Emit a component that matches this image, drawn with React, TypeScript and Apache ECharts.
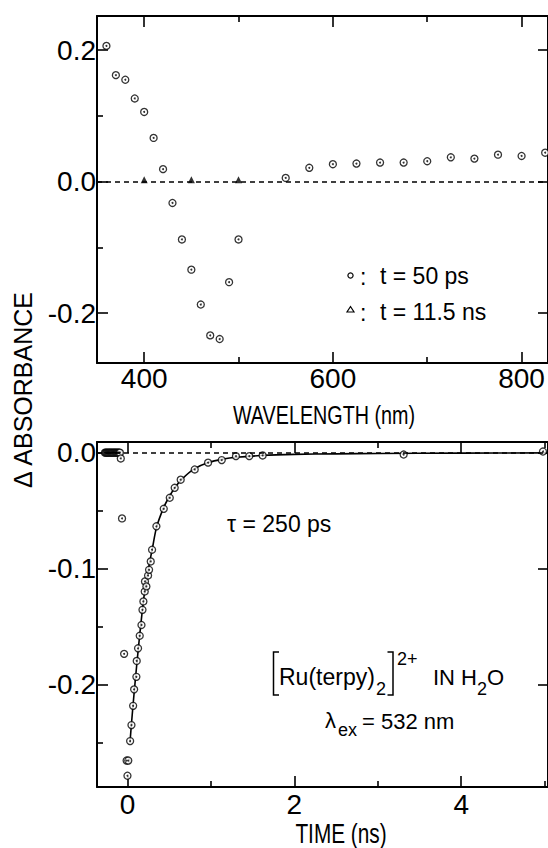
import React, { useEffect, useRef } from 'react';
import * as echarts from 'echarts';

// ---------- data: top panel (transient spectra) ----------
const wavelength50 = [360, 370, 380, 390, 400, 410, 420, 430, 440, 450, 460, 470, 480, 490, 500, 550, 575, 600, 625, 650, 675, 700, 725, 750, 775, 800, 825];
const dA50 = [0.2065, 0.162, 0.155, 0.1265, 0.106, 0.0665, 0.019, -0.0325, -0.088, -0.134, -0.187, -0.234, -0.2395, -0.153, -0.088, 0.0056, 0.021, 0.0265, 0.0275, 0.029, 0.029, 0.031, 0.037, 0.035, 0.041, 0.039, 0.044];
const wavelength11 = [400, 450, 500];
const dA11 = [0.003, 0.003, 0.003];

// ---------- data: bottom panel (kinetics) ----------
const timeObs = [-0.27, -0.26, -0.25, -0.24, -0.23, -0.22, -0.21, -0.2, -0.19, -0.18, -0.17, -0.16, -0.15, -0.14, -0.13, -0.12, -0.11, -0.1, -0.09, -0.08, -0.065, -0.04, -0.01, 0.0, 0.01, 0.032, 0.048, 0.068, 0.08, 0.107, 0.111, 0.127, 0.147, 0.168, 0.18, 0.191, 0.207, 0.21, 0.227, 0.247, 0.259, 0.279, 0.295, 0.347, 0.435, 0.507, 0.566, 0.638, 0.806, 0.966, 1.13, 1.3, 1.46, 1.62, 3.31, 4.98];
const dAObs = [0.0, 0.0, 0.0, 0.0, 0.0, 0.0, 0.0, 0.0, 0.0, 0.0, 0.0, 0.0, 0.0, 0.0, 0.0, 0.0, 0.0, 0.0, 0.0, -0.005, -0.0567, -0.1735, -0.2655, -0.2786, -0.2655, -0.2487, -0.2349, -0.2183, -0.2041, -0.1933, -0.1796, -0.1687, -0.1579, -0.1486, -0.1355, -0.1283, -0.1197, -0.111, -0.1153, -0.1059, -0.101, -0.0938, -0.0837, -0.0635, -0.0484, -0.0389, -0.0303, -0.0233, -0.0145, -0.0086, -0.0064, -0.003, -0.003, -0.0024, -0.0016, 0.001];
const timeFit = [0.03, 0.05, 0.08, 0.11, 0.15, 0.2, 0.25, 0.3, 0.35, 0.43, 0.5, 0.57, 0.65, 0.8, 0.97, 1.15, 1.3, 1.6, 2.0, 2.5, 3.0, 4.0, 5.04];
const dAFit = [-0.25, -0.232, -0.207, -0.184, -0.155, -0.123, -0.101, -0.082, -0.064, -0.048, -0.038, -0.03, -0.023, -0.014, -0.0085, -0.0055, -0.004, -0.0025, -0.0015, -0.001, -0.0007, -0.0004, -0.0002];

// ---------- ticks ----------
const wlMajor = [400, 600, 800];
const wlMinor = [500, 700];
const absTopMajor = [-0.2, 0, 0.2];
const absTopMinor = [-0.1, 0.1];
const timeMajor = [0, 2, 4];
const timeMinor = [1, 3, 5];
const absBotMajor = [-0.2, -0.1, 0];
const absBotMinor = [-0.25, -0.15, -0.05];

const REG = "'Liberation Sans', Arial, sans-serif";

const zip = (a: number[], b: number[]) => a.map((v, i) => [v, b[i]]);

function axis(opts: {
  grid: number; min: number; max: number; position: string; ticks: number[]; len: number;
  labels?: number[]; line?: boolean; fmt?: (v: number) => string; margin?: number;
}) {
  return {
    type: 'value',
    gridIndex: opts.grid,
    min: opts.min,
    max: opts.max,
    position: opts.position,
    splitLine: { show: false },
    axisLine: { show: !!opts.line, onZero: false, lineStyle: { color: '#000', width: 2 } },
    axisTick: {
      show: true, inside: true, length: opts.len, customValues: opts.ticks,
      lineStyle: { color: '#000', width: 1.6 },
    },
    axisLabel: opts.labels
      ? {
          show: true, customValues: opts.labels, margin: opts.margin ?? 2, color: '#000',
          fontSize: 28, fontFamily: REG, formatter: opts.fmt,
        }
      : { show: false },
  };
}

const fmtAbs = (v: number) => (Math.abs(v) < 1e-9 ? '0.0' : v.toFixed(1));
const fmtInt = (v: number) => String(Math.round(v));

export default function App() {
  const ref = useRef<HTMLDivElement>(null);
  useEffect(() => {
    if (!ref.current) return;
    const chart = echarts.init(ref.current, undefined, { renderer: 'svg' });
    const WL = { min: 350, max: 828 };
    const AT = { min: -0.276, max: 0.252 };
    const TM = { min: -0.365, max: 5.04 };
    const AB = { min: -0.2883, max: 0.0092 };
    const txt = (text: string, x: number, y: number, size: number, align = 'left', extra: any = {}) => ({
      type: 'text', x, y, silent: true, ...extra,
      style: { text, fill: '#000', fontSize: size, fontFamily: REG, align, verticalAlign: 'middle' },
    });
    const ringStyle = { color: '#fff', borderColor: '#000', borderWidth: 1.3 };
    const dashed = {
      silent: true, symbol: ['none', 'none'], label: { show: false },
      lineStyle: { color: '#000', type: [5, 4], width: 1.5 },
      data: [{ yAxis: 0 }],
    };
    chart.setOption({
      animation: false,
      backgroundColor: '#fff',
      grid: [
        { left: 97, top: 16, width: 452, height: 347 },
        { left: 97, top: 442, width: 452, height: 345 },
      ],
      xAxis: [
        axis({ grid: 0, ...WL, position: 'bottom', ticks: wlMajor, len: 11, labels: wlMajor, line: true, fmt: fmtInt, margin: 1 }),
        axis({ grid: 0, ...WL, position: 'bottom', ticks: wlMinor, len: 6 }),
        axis({ grid: 0, ...WL, position: 'top', ticks: wlMajor, len: 11, line: true }),
        axis({ grid: 0, ...WL, position: 'top', ticks: wlMinor, len: 6 }),
        axis({ grid: 1, ...TM, position: 'bottom', ticks: timeMajor, len: 11, labels: timeMajor, line: true, fmt: fmtInt, margin: 3 }),
        axis({ grid: 1, ...TM, position: 'bottom', ticks: timeMinor, len: 6 }),
        axis({ grid: 1, ...TM, position: 'top', ticks: timeMajor, len: 11, line: true }),
        axis({ grid: 1, ...TM, position: 'top', ticks: timeMinor, len: 6 }),
      ],
      yAxis: [
        axis({ grid: 0, ...AT, position: 'left', ticks: absTopMajor, len: 11, labels: absTopMajor, line: true, fmt: fmtAbs, margin: 1 }),
        axis({ grid: 0, ...AT, position: 'left', ticks: absTopMinor, len: 6 }),
        axis({ grid: 0, ...AT, position: 'right', ticks: absTopMajor, len: 10, line: true }),
        axis({ grid: 1, ...AB, position: 'left', ticks: absBotMajor, len: 11, labels: absBotMajor, line: true, fmt: fmtAbs, margin: 1 }),
        axis({ grid: 1, ...AB, position: 'left', ticks: absBotMinor, len: 6 }),
        axis({ grid: 1, ...AB, position: 'right', ticks: absBotMajor, len: 10, line: true }),
      ],
      series: [
        {
          type: 'scatter', xAxisIndex: 0, yAxisIndex: 0, data: zip(wavelength50, dA50),
          symbol: 'circle', symbolSize: 7, itemStyle: ringStyle, markLine: dashed, z: 3,
        },
        {
          type: 'scatter', xAxisIndex: 0, yAxisIndex: 0, data: zip(wavelength50, dA50),
          symbol: 'circle', symbolSize: 2, itemStyle: { color: '#000' }, silent: true, z: 4,
        },
        {
          type: 'scatter', xAxisIndex: 0, yAxisIndex: 0, data: zip(wavelength11, dA11),
          symbol: 'triangle', symbolSize: 7, itemStyle: { color: '#000' }, z: 4,
        },
        {
          type: 'line', xAxisIndex: 4, yAxisIndex: 3, data: zip(timeFit, dAFit),
          showSymbol: false, smooth: 0.3, lineStyle: { color: '#000', width: 1.6 }, z: 2,
          markLine: dashed,
        },
        {
          type: 'scatter', xAxisIndex: 4, yAxisIndex: 3, data: zip(timeObs, dAObs),
          symbol: 'circle', symbolSize: 7, itemStyle: ringStyle, z: 3,
        },
        {
          type: 'scatter', xAxisIndex: 4, yAxisIndex: 3, data: zip(timeObs, dAObs),
          symbol: 'circle', symbolSize: 2, itemStyle: { color: '#000' }, silent: true, z: 4,
        },
      ],
      graphic: [
        // axis titles
        txt('WAVELENGTH (nm)', 324, 416, 25, 'center', { scaleX: 0.79 }),
        txt('TIME (ns)', 341, 833, 27, 'center', { scaleX: 0.77 }),
        txt('Δ ABSORBANCE', 23, 390, 25, 'center', { rotation: Math.PI / 2 }),
        // legend
        { type: 'circle', silent: true, shape: { cx: 350.5, cy: 275.5, r: 2.6 }, style: { fill: 'none', stroke: '#000', lineWidth: 1.2 } },
        txt(':', 360, 277, 23),
        txt('t = 50 ps', 380, 275.5, 23),
        { type: 'polygon', silent: true, shape: { points: [[347, 312], [354, 312], [350.5, 306.5]] }, style: { fill: 'none', stroke: '#000', lineWidth: 1.2 } },
        txt(':', 360, 313, 23),
        txt('t = 11.5 ns', 380, 312, 23),
        // bottom annotations
        txt('τ = 250 ps', 227, 523.5, 23),
        { type: 'polyline', silent: true, shape: { points: [[279, 652], [273.5, 652], [273.5, 695], [279, 695]] }, style: { fill: 'none', stroke: '#000', lineWidth: 1.5 } },
        txt('Ru(terpy)', 279, 677, 23),
        txt('2', 376, 689, 18),
        { type: 'polyline', silent: true, shape: { points: [[387.5, 652], [393, 652], [393, 695], [387.5, 695]] }, style: { fill: 'none', stroke: '#000', lineWidth: 1.5 } },
        txt('2+', 397, 658.5, 18),
        txt('IN H', 433, 677, 22),
        txt('2', 477, 689, 18),
        txt('O', 487, 677, 22),
        txt('λ', 325, 720, 22),
        txt('ex', 338, 730, 18),
        txt('= 532 nm', 362, 721.5, 22),
      ],
    });
    return () => chart.dispose();
  }, []);
  return (
    <div
      ref={ref}
      style={{ position: 'fixed', left: 0, top: 0, width: 548, height: 848, background: '#fff' }}
    />
  );
}
